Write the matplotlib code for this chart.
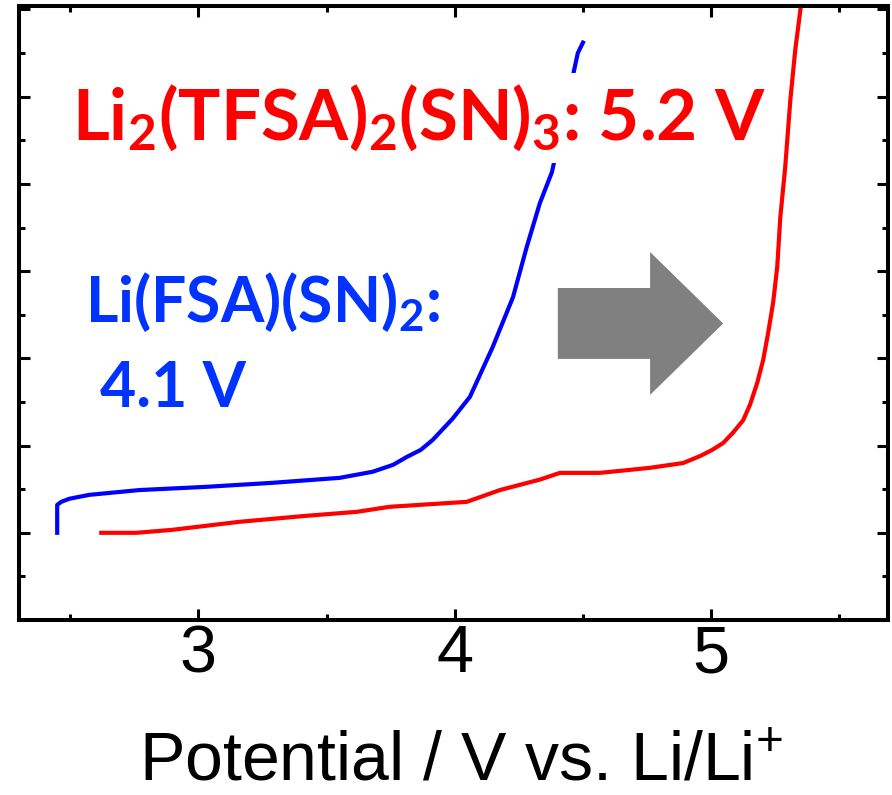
import numpy as np
import matplotlib.pyplot as plt
from matplotlib.patches import FancyArrow

# Linear sweep voltammetry curves (current in arbitrary units)
fsa_potential = [2.449, 2.449, 2.465, 2.496, 2.574, 2.770, 3.031, 3.289, 3.551, 3.680,
                 3.760, 3.813, 3.867, 3.914, 3.992, 4.059, 4.148, 4.227, 4.281, 4.332,
                 4.379, 4.480, 4.500]
fsa_current = [0.0, 0.32, 0.355, 0.39, 0.435, 0.49, 0.527, 0.573, 0.63, 0.70,
               0.78, 0.87, 0.95, 1.065, 1.31, 1.558, 2.13, 2.70, 3.28, 3.78,
               4.135, 5.50, 5.62]

tfsa_potential = [2.621, 2.758, 2.898, 3.160, 3.422, 3.617, 3.746, 4.047, 4.176, 4.332,
                  4.410, 4.566, 4.762, 4.891, 4.957, 5.004, 5.047, 5.086, 5.125, 5.152,
                  5.180, 5.203, 5.223, 5.242, 5.258, 5.270, 5.289, 5.309, 5.328, 5.348,
                  5.356]
tfsa_current = [0.0, 0.0, 0.034, 0.126, 0.195, 0.24, 0.298, 0.355, 0.49, 0.61,
                0.687, 0.687, 0.745, 0.80, 0.88, 0.95, 1.03, 1.15, 1.29, 1.47,
                1.72, 1.98, 2.30, 2.64, 3.05, 3.62, 4.19, 4.96, 5.53, 5.99,
                6.2]

x_ticks = [3, 4, 5]

fig = plt.figure(figsize=(8.92, 7.95), dpi=100)
ax = fig.add_axes([0.0213, 0.2201, 0.9742, 0.7724])

ax.plot(fsa_potential, fsa_current, color='#0000ff', lw=3.0)
ax.plot(tfsa_potential, tfsa_current, color='#ff0000', lw=3.0)

ax.set_xlim(2.30, 5.69)
ax.set_ylim(-1.0, 6.04)

# grey arrow showing the shift of the oxidation limit
ax.add_patch(FancyArrow(4.402, 2.40, 0.645, 0, width=0.813, head_width=1.638,
                        head_length=0.285, length_includes_head=True,
                        color='#808080', lw=0))

ax.text(0.061, 0.782, r'Li$\mathregular{_2}$(TFSA)$\mathregular{_2}$(SN)$\mathregular{_3}$: 5.2 V',
        transform=ax.transAxes, family='Lato', weight='bold', fontsize=51,
        color='#ff0000', va='baseline', zorder=5,
        bbox=dict(boxstyle='square,pad=0.14', fc='white', ec='none'))
ax.text(0.076, 0.485, r'Li(FSA)(SN)$\mathregular{_2}$:', transform=ax.transAxes,
        family='Lato', weight='bold', fontsize=45, color='#0033ff', va='baseline')
ax.text(0.093, 0.347, '4.1 V', transform=ax.transAxes,
        family='Lato', weight='bold', fontsize=45, color='#0033ff', va='baseline')

ax.set_xticks(x_ticks)
ax.set_xticks(np.arange(2.5, 5.6, 1.0), minor=True)
ax.set_yticks(np.arange(0, 6.1, 1.0))
ax.set_yticks(np.arange(-0.5, 6.0, 1.0), minor=True)
ax.set_yticklabels([])
ax.tick_params(which='both', direction='in', top=True, right=True, width=2.2)
ax.tick_params(which='major', length=8)
ax.tick_params(which='minor', length=4)
ax.tick_params(axis='x', labelsize=48, pad=3)
for lab in ax.get_xticklabels():
    lab.set_family('Liberation Sans')
for sp in ax.spines.values():
    sp.set_linewidth(2.9)

ax.set_xlabel(r'Potential / V vs. Li/$\mathregular{Li^{+}}$', family='Liberation Sans',
              fontsize=49, va='baseline')
ax.xaxis.set_label_coords(0.509, -0.262)

fig.savefig('out.png', dpi=100)
